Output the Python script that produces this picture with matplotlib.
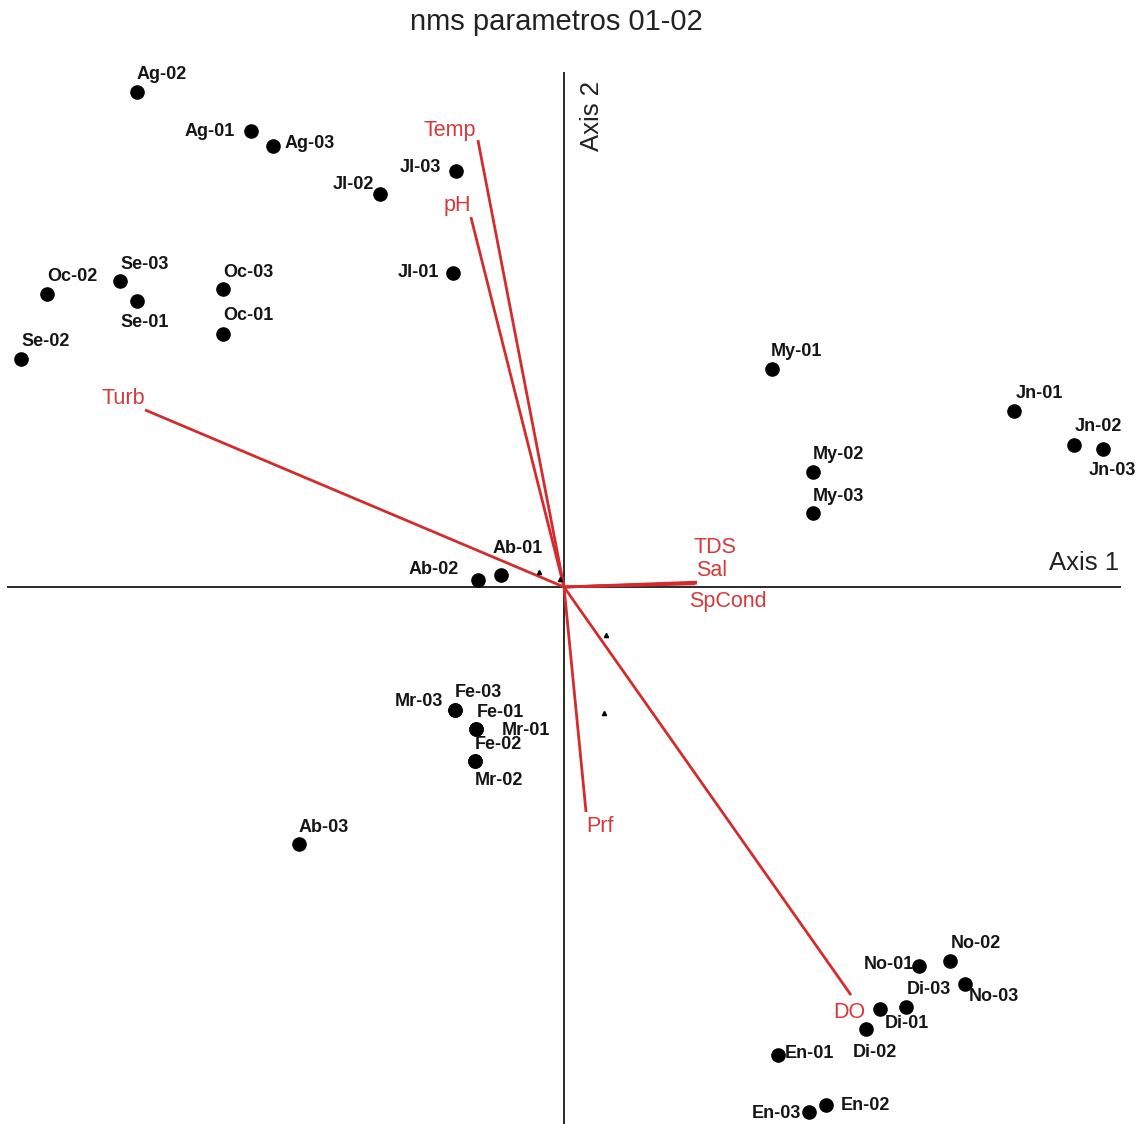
import matplotlib
matplotlib.use("Agg")
import matplotlib.pyplot as plt

plt.rcParams['font.family'] = ['Liberation Sans', 'DejaVu Sans']

# NMS sample scores (Axis 1, Axis 2)
samples = ['Ag-02', 'Ag-01', 'Ag-03', 'Jl-03', 'Jl-02', 'Jl-01', 'Oc-02', 'Se-03',
           'Se-01', 'Oc-03', 'Oc-01', 'Se-02', 'My-01', 'Jn-01', 'Jn-02', 'Jn-03',
           'My-02', 'My-03', 'Ab-01', 'Ab-02', 'Mr-03', 'Fe-03', 'Fe-01', 'Mr-01',
           'Fe-02', 'Mr-02', 'Ab-03', 'No-01', 'No-02', 'No-03', 'Di-03', 'Di-01',
           'Di-02', 'En-01', 'En-02', 'En-03']
axis1 = [-1.220, -0.894, -0.831, -0.309, -0.526, -0.317, -1.477, -1.269,
         -1.220, -0.974, -0.974, -1.551, 0.594, 1.286, 1.457, 1.540,
         0.711, 0.711, -0.180, -0.246, -0.311, -0.311, -0.251, -0.251,
         -0.254, -0.254, -0.757, 1.014, 1.103, 1.146, 0.977, 0.903,
         0.863, 0.611, 0.749, 0.700]
axis2 = [1.414, 1.303, 1.260, 1.189, 1.123, 0.897, 0.837, 0.874,
         0.817, 0.851, 0.723, 0.651, 0.623, 0.503, 0.406, 0.394,
         0.329, 0.211, 0.034, 0.020, -0.351, -0.351, -0.406, -0.406,
         -0.497, -0.497, -0.734, -1.083, -1.069, -1.134, -1.200, -1.206,
         -1.263, -1.337, -1.480, -1.500]

# Environmental vectors (joint plot)
variables = ['Temp', 'pH', 'Turb', 'TDS', 'Sal', 'SpCond', 'Prf', 'DO']
vec1 = [-0.246, -0.266, -1.197, 0.380, 0.380, 0.374, 0.063, 0.820]
vec2 = [1.277, 1.057, 0.506, 0.014, 0.011, 0.009, -0.643, -1.166]

# Small secondary markers
tri1 = [-0.071, -0.011, 0.120, 0.114]
tri2 = [0.043, 0.023, -0.137, -0.360]

# label offsets in pixels (dx right, dy down) relative to each point
sample_offsets = {
    'Ag-02': (25, -18), 'Ag-01': (-41, 1), 'Ag-03': (37, -2), 'Jl-03': (-35, -3),
    'Jl-02': (-27, -9), 'Jl-01': (-35, -1), 'Oc-02': (25, -18), 'Se-03': (25, -17),
    'Se-01': (8, 21), 'Oc-03': (25, -17), 'Oc-01': (25, -18), 'Se-02': (24, -18),
    'My-01': (25, -17), 'Jn-01': (25, -17), 'Jn-02': (24, -18), 'Jn-03': (9, 21),
    'My-02': (26, -17), 'My-03': (26, -17), 'Ab-01': (17, -27), 'Ab-02': (-44, -11),
    'Mr-03': (-36, -8), 'Fe-03': (23, -17), 'Fe-01': (24, -17), 'Mr-01': (50, 1),
    'Fe-02': (23, -16), 'Mr-02': (24, 20), 'Ab-03': (25, -16), 'No-01': (-30, -2),
    'No-02': (26, -18), 'No-03': (29, 13), 'Di-03': (23, -17), 'Di-01': (27, 14),
    'Di-02': (9, 23), 'En-01': (32, -1), 'En-02': (39, 0), 'En-03': (-33, 1),
}
vector_offsets = {
    'Temp': (-28, -10), 'pH': (-14, -12), 'Turb': (-22, -11), 'TDS': (18, -35),
    'Sal': (15, -13), 'SpCond': (33, 18), 'Prf': (14, 14), 'DO': (-2, 17),
}

RED = '#d6393a'
LINE_RED = '#d42c2c'
AXIS_GREY = '#2a2a2a'
PX = 0.72  # points per pixel at 100 dpi

fig = plt.figure(figsize=(11.40, 11.24), dpi=100)
ax = fig.add_axes([0, 0, 1, 1])
ax.set_xlim(-564 / 350, 576 / 350)
ax.set_ylim(-537 / 350, 587 / 350)
ax.axis('off')

# ordination axes
ax.plot([-1.589, 1.589], [0, 0], color=AXIS_GREY, lw=1.4, zorder=1)
ax.plot([0, 0], [-1.6, 1.468], color=AXIS_GREY, lw=1.4, zorder=1)
ax.text(1.485, 0.07, 'Axis 1', fontsize=18.5, ha='center', va='center', color='#222222')
ax.text(0.08, 1.345, 'Axis 2', fontsize=18.5, ha='center', va='center',
        rotation=90, color='#222222')

# environmental vectors
for name, vx, vy in zip(variables, vec1, vec2):
    ax.plot([0, vx], [0, vy], color=LINE_RED, lw=2.0, zorder=2, solid_capstyle='butt')
    dx, dy = vector_offsets[name]
    ax.annotate(name, (vx, vy), xytext=(dx * PX, -dy * PX), textcoords='offset points',
                fontsize=15.5, color=RED, ha='center', va='center', zorder=4)

# sample points
ax.plot(axis1, axis2, 'o', color='black', markersize=9.5, zorder=3, linestyle='none')
for name, sx, sy in zip(samples, axis1, axis2):
    dx, dy = sample_offsets[name]
    ax.annotate(name, (sx, sy), xytext=(dx * PX, -dy * PX), textcoords='offset points',
                fontsize=13, fontweight='bold', color='#151515',
                ha='center', va='center', zorder=4)

ax.plot(tri1, tri2, '^', color='black', markersize=3, linestyle='none', zorder=3)

fig.text(556 / 1140, 1 - 22 / 1124, 'nms parametros 01-02', fontsize=21,
         ha='center', va='center', color='#222222')

fig.savefig('out.png', dpi=100, facecolor='white')
